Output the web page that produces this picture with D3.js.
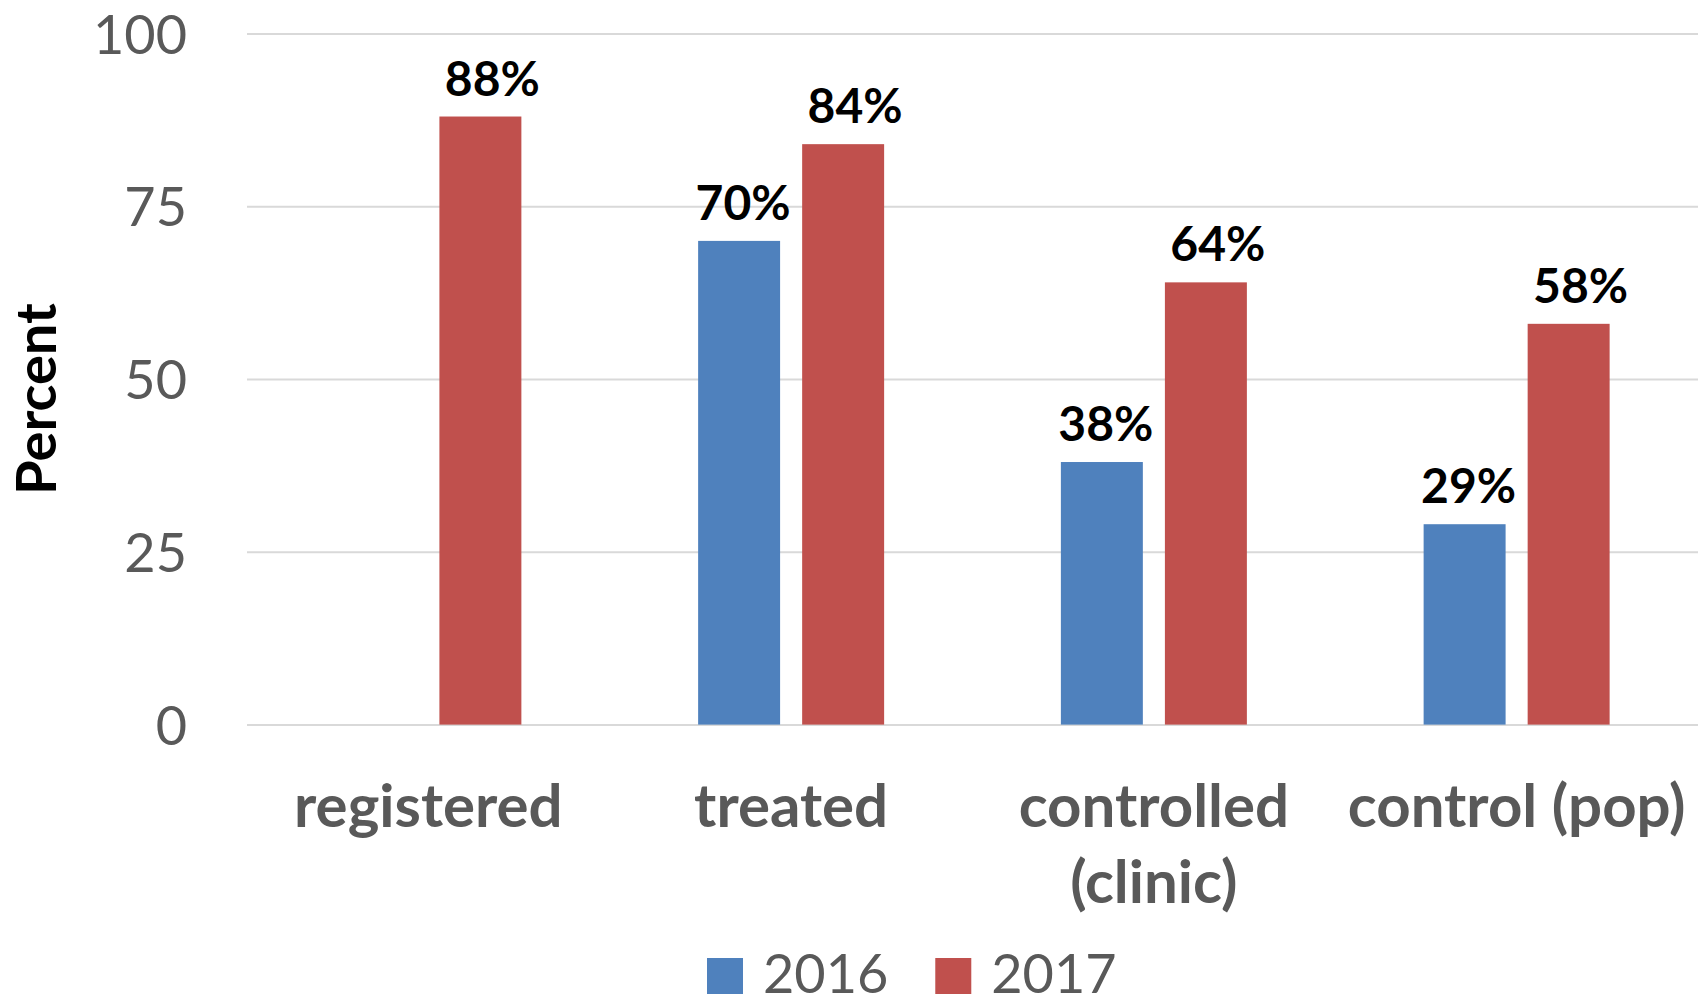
<!DOCTYPE html>
<html>
<head>
<meta charset="utf-8">
<script src="https://cdn.jsdelivr.net/npm/d3@7"></script>
<style>
  body { margin: 0; background: #fff; }
  svg { display: block; }
  text { font-family: Lato, "Open Sans", sans-serif; }
</style>
</head>
<body>
<svg id="chart" width="1701" height="1007"></svg>
<script>
// Chart data
const categories = ["registered", "treated", "controlled (clinic)", "control (pop)"];
const seriesNames = ["2016", "2017"];
const values2016 = [null, 70, 38, 29];
const values2017 = [88, 84, 64, 58];
const yTicks = [0, 25, 50, 75, 100];
const seriesColors = ["#4F81BD", "#C0504D"];

const svg = d3.select("#chart");
const W = 1701, H = 1007;
const plot = { left: 247, right: 1698, top: 33.6, bottom: 724.6 };
const labelShift = [4, 12];   // horizontal nudge of value labels per series

svg.append("rect").attr("width", W).attr("height", H).attr("fill", "#fff");

const x0 = d3.scaleBand().domain(categories).range([plot.left, plot.right]).padding(0);
const x1 = d3.scaleBand().domain(seriesNames).range([-93, 93]).paddingInner(0.212);
const y = d3.scaleLinear().domain([0, 100]).range([plot.bottom, plot.top]);

// Gridlines and value axis labels
const yAxis = svg.append("g")
  .attr("transform", `translate(${plot.left},0)`)
  .call(d3.axisLeft(y).tickValues(yTicks).tickSize(-(plot.right - plot.left)).tickPadding(60).tickFormat(d3.format("d")));
yAxis.select(".domain").remove();
yAxis.selectAll(".tick line").attr("stroke", "#D9D9D9").attr("stroke-width", 2);
yAxis.selectAll(".tick text")
  .attr("fill", "#595959")
  .attr("font-size", 54)
  .attr("dy", "0.36em")
  .style("font-family", "Lato, 'Open Sans', sans-serif");

// Bars
const rows = categories.map((c, i) => ({ cat: c, vals: [values2016[i], values2017[i]] }));
const groups = svg.append("g").selectAll("g").data(rows).join("g")
  .attr("transform", d => `translate(${x0(d.cat) + x0.bandwidth() / 2},0)`);

const cells = groups.selectAll("g.cell")
  .data(d => d.vals.map((v, j) => ({ series: seriesNames[j], v, j })).filter(e => e.v != null))
  .join("g").attr("class", "cell");

cells.append("rect")
  .attr("x", d => x1(d.series))
  .attr("width", x1.bandwidth())
  .attr("y", d => y(d.v))
  .attr("height", d => y(0) - y(d.v))
  .attr("fill", d => seriesColors[d.j]);

cells.append("text")
  .attr("x", d => x1(d.series) + x1.bandwidth() / 2 + labelShift[d.j])
  .attr("y", d => y(d.v) - 21)
  .attr("text-anchor", "middle")
  .attr("font-size", 48)
  .attr("font-weight", 700)
  .attr("fill", "#000")
  .text(d => d.v + "%");

// Category labels, wrapped to the band width
const catLabels = svg.append("g").selectAll("text").data(categories).join("text")
  .attr("x", d => x0(d) + x0.bandwidth() / 2)
  .attr("y", 827)
  .attr("text-anchor", "middle")
  .attr("font-size", 60)
  .attr("font-weight", 700)
  .attr("fill", "#595959");

catLabels.each(function(d) {
  const t = d3.select(this);
  const words = d.split(" ");
  const maxW = x0.bandwidth();
  let lines = [], line = [];
  const probe = t.append("tspan");
  words.forEach(w => {
    const test = line.concat(w).join(" ");
    probe.text(test);
    if (line.length && probe.node().getComputedTextLength() > maxW) {
      lines.push(line.join(" "));
      line = [w];
    } else {
      line.push(w);
    }
  });
  lines.push(line.join(" "));
  probe.remove();
  const cx = x0(d) + x0.bandwidth() / 2;
  lines.forEach((l, i) => {
    t.append("tspan").attr("x", cx).attr("dy", i === 0 ? 0 : 76).text(l);
  });
});

// Axis title
svg.append("text")
  .attr("transform", `translate(56,399) rotate(-90)`)
  .attr("text-anchor", "middle")
  .attr("font-size", 56)
  .attr("font-weight", 700)
  .attr("fill", "#000")
  .text("Percent");

// Legend
const legend = svg.append("g");
const items = legend.selectAll("g").data(seriesNames).join("g");
items.append("rect").attr("width", 36).attr("height", 36).attr("y", 958)
  .attr("fill", (d, i) => seriesColors[i]);
items.append("text").attr("x", 56).attr("y", 993)
  .attr("font-size", 54).attr("fill", "#595959").text(d => d);
let lx = 707;
items.each(function() {
  const g = d3.select(this);
  g.attr("transform", `translate(${lx},0)`);
  const w = 56 + g.select("text").node().getComputedTextLength();
  lx += w + 47;
});
</script>
</body>
</html>
